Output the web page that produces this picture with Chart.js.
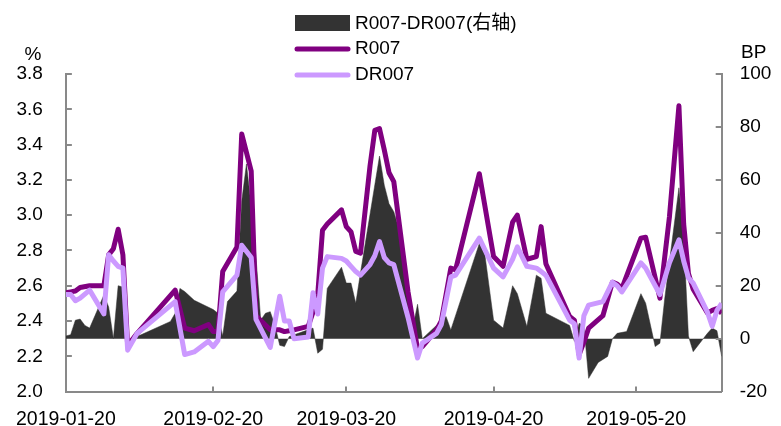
<!DOCTYPE html>
<html><head><meta charset="utf-8">
<script src="https://cdn.jsdelivr.net/npm/chart.js@4/dist/chart.umd.min.js"></script>
<style>html,body{margin:0;padding:0;background:#fff;}#wrap{position:relative;width:781px;height:426px;}</style>
</head><body><div id="wrap"><canvas id="c" width="781" height="426"></canvas></div>
<script>
const lineDates = ['2019-01-20','2019-01-21','2019-01-22','2019-01-23','2019-01-25','2019-01-28','2019-01-29','2019-01-30','2019-01-31','2019-02-01','2019-02-02','2019-02-04','2019-02-12','2019-02-14','2019-02-16','2019-02-19','2019-02-20','2019-02-21','2019-02-22','2019-02-25','2019-02-26','2019-02-28','2019-03-01','2019-03-04','2019-03-06','2019-03-07','2019-03-08','2019-03-09','2019-03-12','2019-03-13','2019-03-14','2019-03-15','2019-03-16','2019-03-19','2019-03-20','2019-03-21','2019-03-22','2019-03-23','2019-03-25','2019-03-26','2019-03-27','2019-03-28','2019-03-29','2019-03-30','2019-04-02','2019-04-04','2019-04-05','2019-04-08','2019-04-09','2019-04-11','2019-04-12','2019-04-17','2019-04-20','2019-04-22','2019-04-24','2019-04-25','2019-04-27','2019-04-29','2019-04-30','2019-05-01','2019-05-06','2019-05-07','2019-05-08','2019-05-09','2019-05-10','2019-05-13','2019-05-15','2019-05-16','2019-05-17','2019-05-21','2019-05-22','2019-05-25','2019-05-27','2019-05-29','2019-05-30','2019-05-31','2019-06-01','2019-06-04','2019-06-05','2019-06-06','2019-06-07'];
const r007 = [2.56,2.565,2.57,2.59,2.60,2.60,2.775,2.81,2.92,2.775,2.26,2.33,2.575,2.36,2.345,2.38,2.34,2.34,2.68,2.82,3.46,3.25,2.43,2.35,2.35,2.34,2.345,2.35,2.37,2.45,2.55,2.915,2.95,3.03,2.935,2.905,2.795,2.785,3.28,3.48,3.49,3.37,3.24,3.19,2.565,2.24,2.255,2.35,2.40,2.70,2.69,3.235,2.765,2.71,2.96,3.0,2.75,2.765,2.935,2.725,2.425,2.405,2.21,2.28,2.36,2.43,2.62,2.61,2.585,2.87,2.875,2.53,2.99,3.62,2.95,2.67,2.58,2.445,2.46,2.47,2.445];
const dr007 = [2.55,2.55,2.515,2.53,2.575,2.44,2.775,2.74,2.71,2.70,2.235,2.33,2.51,2.21,2.225,2.285,2.255,2.29,2.565,2.66,2.83,2.76,2.41,2.25,2.54,2.40,2.40,2.30,2.31,2.56,2.44,2.70,2.765,2.755,2.74,2.71,2.68,2.66,2.72,2.77,2.85,2.76,2.73,2.72,2.42,2.19,2.275,2.33,2.38,2.65,2.66,2.87,2.70,2.65,2.75,2.82,2.71,2.70,2.68,2.66,2.405,2.385,2.19,2.43,2.49,2.51,2.62,2.60,2.565,2.73,2.70,2.55,2.73,2.86,2.74,2.645,2.615,2.45,2.37,2.46,2.50];
const spreadDates = ['2019-01-20','2019-01-21','2019-01-22','2019-01-23','2019-01-24','2019-01-25','2019-01-28','2019-01-29','2019-01-30','2019-01-31','2019-02-01','2019-02-02','2019-02-03','2019-02-04','2019-02-11','2019-02-12','2019-02-13','2019-02-14','2019-02-16','2019-02-20','2019-02-21','2019-02-22','2019-02-23','2019-02-25','2019-02-26','2019-02-27','2019-02-28','2019-03-01','2019-03-02','2019-03-03','2019-03-04','2019-03-05','2019-03-06','2019-03-07','2019-03-08','2019-03-13','2019-03-14','2019-03-15','2019-03-16','2019-03-19','2019-03-20','2019-03-21','2019-03-22','2019-03-23','2019-03-27','2019-03-28','2019-03-29','2019-03-30','2019-03-31','2019-04-01','2019-04-02','2019-04-03','2019-04-04','2019-04-05','2019-04-10','2019-04-11','2019-04-17','2019-04-18','2019-04-20','2019-04-22','2019-04-24','2019-04-25','2019-04-27','2019-04-29','2019-04-30','2019-05-01','2019-05-06','2019-05-07','2019-05-08','2019-05-09','2019-05-10','2019-05-12','2019-05-14','2019-05-15','2019-05-16','2019-05-18','2019-05-21','2019-05-22','2019-05-24','2019-05-25','2019-05-26','2019-05-29','2019-05-30','2019-05-31','2019-06-01','2019-06-04','2019-06-05','2019-06-06','2019-06-07'];
const spread = [1,1.5,7,7.4,5,4,16.5,12,0,20,19.5,-0.5,0,0.8,6.5,9.6,19,17.8,14.5,11,9.6,1,14,18,52,66,50,31,7,9.6,10.2,5,-2.5,-3,0.8,4,-5.5,-4,19,27,21,21,13.4,25,69,58,51,48,42,31,16,4,13,0,8.4,3.3,36,34,7,4,20,17,4.6,24,22.8,9.6,5,-1,5.8,5,-15,-9,-6.7,0,2,2.7,17,13.4,-3,-1.7,15,57,38,1,-4.9,2,4,3,-6.7];
const tickDates = ['2019-01-20','2019-02-20','2019-03-20','2019-04-20','2019-05-20'];
const startDate = '2019-01-20';
const endDate = '2019-06-07';
const seriesNames = ['R007-DR007(右轴)','R007','DR007'];
const leftUnit = '%';
const rightUnit = 'BP';

const dayNum = s => (Date.parse(s) - Date.parse(startDate)) / 86400000;
const pts = (dates, vals) => dates.map((d, i) => ({x: dayNum(d), y: vals[i]}));
const FAM = "'Liberation Sans', Arial, 'Noto Sans CJK SC', sans-serif";
const FS = 19;
const XFS = 19.5;
const AXIS = '#898989';

const decor = {
  id: 'decor',
  afterDraw(chart) {
    const ctx = chart.ctx, a = chart.chartArea;
    const sx = chart.scales.x, sy = chart.scales.y, sy1 = chart.scales.y1;
    ctx.save();
    ctx.strokeStyle = AXIS; ctx.lineWidth = 2;
    const seg = (x1, y1, x2, y2) => { ctx.beginPath(); ctx.moveTo(x1, y1); ctx.lineTo(x2, y2); ctx.stroke(); };
    sy.ticks.forEach(t => { const p = Math.round(sy.getPixelForValue(t.value)); seg(a.left, p, a.left + 6, p); });
    sy1.ticks.forEach(t => { const p = Math.round(sy1.getPixelForValue(t.value)); seg(a.right - 6, p, a.right, p); });
    sx.ticks.forEach(t => { const p = Math.round(sx.getPixelForValue(t.value)); seg(p, a.bottom, p, a.bottom - 5); });
    ctx.fillStyle = '#000';
    ctx.font = FS + 'px ' + FAM;
    ctx.textBaseline = 'middle';
    ctx.textAlign = 'center'; ctx.fillText(leftUnit, 33, 55);
    ctx.textAlign = 'left'; ctx.fillText(rightUnit, 741, 53);
    // legend
    const ds = chart.data.datasets;
    const lx = 295, lw = 55, tx = 355, rows = [23.5, 49, 75];
    ctx.fillStyle = ds[0].backgroundColor;
    ctx.fillRect(lx, 15, lw, 16);
    ctx.lineCap = 'round';
    ctx.lineWidth = 5;
    ctx.strokeStyle = ds[1].borderColor; seg(lx + 2, rows[1], lx + lw - 2, rows[1]);
    ctx.strokeStyle = ds[2].borderColor; seg(lx + 2, rows[2], lx + lw - 2, rows[2]);
    ctx.fillStyle = '#000';
    ctx.textAlign = 'left';
    ds.forEach((d, i) => ctx.fillText(d.label, tx, rows[i]));
    ctx.restore();
  }
};

new Chart(document.getElementById('c'), {
  type: 'line',
  data: {
    datasets: [
      {label: seriesNames[0], data: pts(spreadDates, spread), yAxisID: 'y1', fill: 'origin',
       backgroundColor: '#333333', borderColor: '#333333', borderWidth: 0.5, pointRadius: 0, tension: 0, order: 2},
      {label: seriesNames[1], data: pts(lineDates, r007), yAxisID: 'y', fill: false,
       borderColor: '#800080', borderWidth: 5, pointRadius: 0, tension: 0, order: 1, borderJoinStyle: 'round'},
      {label: seriesNames[2], data: pts(lineDates, dr007), yAxisID: 'y', fill: false,
       borderColor: '#CC99FF', borderWidth: 5, pointRadius: 0, tension: 0, order: 0, borderJoinStyle: 'round'}
    ]
  },
  options: {
    responsive: false, animation: false, devicePixelRatio: 1,
    layout: {padding: {top: 74, left: 0, right: 0, bottom: 0}},
    plugins: {legend: {display: false}, tooltip: {enabled: false}},
    scales: {
      x: {
        type: 'linear', min: 0, max: dayNum(endDate),
        afterBuildTicks: s => { s.ticks = tickDates.map(d => ({value: dayNum(d)})); },
        afterFit: s => { s.height = 34; },
        ticks: {autoSkip: false, maxRotation: 0, padding: 16, color: '#000', font: {family: FAM, size: XFS},
                callback: v => { const i = tickDates.findIndex(d => dayNum(d) === v); return i >= 0 ? tickDates[i] : ''; }},
        grid: {display: false, drawTicks: false},
        border: {display: true, color: AXIS, width: 2}
      },
      y: {
        position: 'left', min: 2.0, max: 3.8,
        afterFit: s => { s.width = 64; },
        ticks: {stepSize: 0.2, padding: 23, color: '#000', font: {family: FAM, size: FS}, callback: v => Number(v).toFixed(1)},
        grid: {display: false, drawTicks: false},
        border: {display: true, color: AXIS, width: 2}
      },
      y1: {
        position: 'right', min: -20, max: 100,
        afterFit: s => { s.width = 59.3; },
        ticks: {stepSize: 20, padding: 18, color: '#000', font: {family: FAM, size: FS}},
        grid: {display: false, drawTicks: false},
        border: {display: true, color: AXIS, width: 2}
      }
    }
  },
  plugins: [decor]
});
</script></body></html>
